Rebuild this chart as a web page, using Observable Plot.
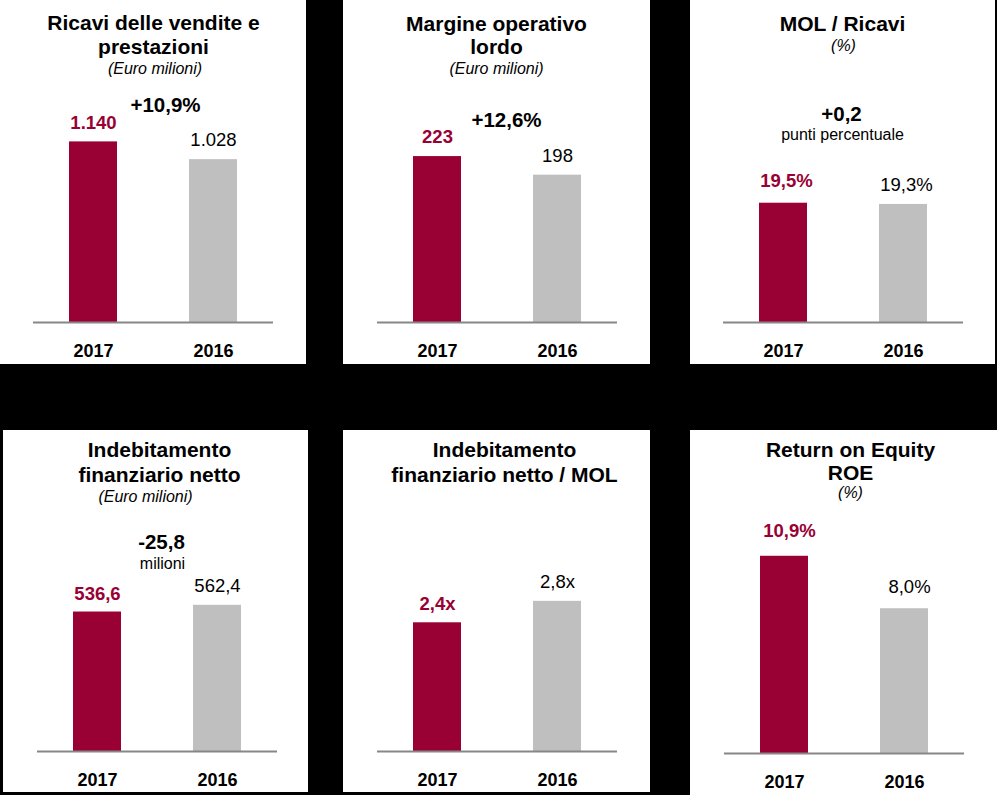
<!DOCTYPE html>
<html><head><meta charset="utf-8">
<script src="https://cdn.jsdelivr.net/npm/d3@7"></script>
<script src="https://cdn.jsdelivr.net/npm/@observablehq/plot@0.6"></script>
<style>
html,body{margin:0;padding:0;background:#000;}
#page{position:relative;width:997px;height:795px;overflow:hidden;background:#000;}
.panel{position:absolute;background:#fff;overflow:hidden;}
.panel svg{display:block;}
</style></head><body><div id="page"></div>
<script>
// ---- data ----
const years = ["2017", "2016"];
const ricavi = [1140, 1028];
const ricaviLabels = ["1.140", "1.028"];
const margine = [223, 198];
const margineLabels = ["223", "198"];
const molRicavi = [19.5, 19.3];
const molRicaviLabels = ["19,5%", "19,3%"];
const indebitamento = [536.6, 562.4];
const indebitamentoLabels = ["536,6", "562,4"];
const indebMol = [2.4, 2.8];
const indebMolLabels = ["2,4x", "2,8x"];
const roe = [10.9, 8.0];
const roeLabels = ["10,9%", "8,0%"];

const titles = [
  "Ricavi delle vendite e\nprestazioni",
  "Margine operativo\nlordo",
  "MOL / Ricavi",
  "Indebitamento\nfinanziario netto",
  "Indebitamento\nfinanziario netto / MOL",
  "Return on Equity\nROE"
];
const subtitles = ["(Euro milioni)", "(Euro milioni)", "(%)", "(Euro milioni)", "", "(%)"];
const changes = ["+10,9%", "+12,6%", "+0,2", "-25,8", "", ""];
const changeNotes = ["", "", "punti percentuale", "milioni", "", ""];

const series = [ricavi, margine, molRicavi, indebitamento, indebMol, roe];
const seriesLabels = [ricaviLabels, margineLabels, molRicaviLabels, indebitamentoLabels, indebMolLabels, roeLabels];

// ---- layout / style ----
const crimson = "#990033";
const grey = "#BFBFBF";
const axisGrey = "#878787";
const font = "'Liberation Sans', Arial, Helvetica, sans-serif";
const MT = 40;

const layout = [
  {left: 0,   top: 0,   width: 306, height: 364, ml: 33, mr: 33, mb: 42, yMax: 1780,
   titleDx: 0, titleDy: 13.5, lh: 24, subDx: 1.5, subDy: 33.3, chDx: 12, chDy: 71, noteDx: 0, noteDy: 0, labDy: [-13, -13.5], labDx: 0},
  {left: 343, top: 0,   width: 307, height: 364, ml: 34, mr: 33, mb: 42, yMax: 379,
   titleDx: -1, titleDy: 13.5, lh: 23.5, subDx: -1, subDy: 33.3, chDx: 9, chDy: 86.7, noteDx: 0, noteDy: 0, labDy: [-14, -13], labDx: 0},
  {left: 690, top: 0,   width: 305, height: 364, ml: 33, mr: 32, mb: 42, yMax: 46.1,
   titleDx: -1, titleDy: -10, lh: 24, subDx: 0, subDy: 10, chDx: -2, chDy: 80, noteDx: -1, noteDy: 99.5, labDy: [-16, -13.5], labDx: 3},
  {left: 3,   top: 430, width: 305, height: 362, ml: 34, mr: 31, mb: 41, yMax: 1081,
   titleDx: 2, titleDy: 11.7, lh: 25, subDx: -12, subDy: 31.6, chDx: 4, chDy: 78, noteDx: 5, noteDy: 98.3, labDy: [-12, -13], labDx: 0},
  {left: 343, top: 430, width: 307, height: 362, ml: 34, mr: 33, mb: 41, yMax: 5.24,
   titleDx: 7, titleDy: 11.7, lh: 25, subDx: 0, subDy: 0, chDx: 0, chDy: 0, noteDx: 0, noteDy: 0, labDy: [-13, -13], labDx: 0},
  {left: 690, top: 430, width: 307, height: 365, ml: 34, mr: 33, mb: 42, yMax: 15.64,
   titleDx: 6, titleDy: 9.3, lh: 23.3, subDx: 6, subDy: 27.3, chDx: 0, chDy: 0, noteDx: 0, noteDy: 0, labDy: [-19, -16], labDx: 5}
];

const page = document.getElementById("page");

series.forEach((vals, i) => {
  const L = layout[i];
  const data = years.map((y, j) => ({year: y, value: vals[j], label: seriesLabels[i][j]}));
  const marks = [
    Plot.barY(data, {x: "year", y: "value", fill: "year"}),
    Plot.ruleY([0], {stroke: axisGrey, strokeWidth: 2}),
    Plot.text(data.slice(0, 1), {x: "year", y: "value", text: "label", lineAnchor: "bottom",
      dy: L.labDy[0], dx: L.labDx, fill: crimson, fontWeight: "bold", fontSize: 18.5}),
    Plot.text(data.slice(1, 2), {x: "year", y: "value", text: "label", lineAnchor: "bottom",
      dy: L.labDy[1], dx: L.labDx, fill: "#000", fontSize: 18.5}),
    Plot.text(years, {x: d => d, text: d => d, frameAnchor: "bottom", lineAnchor: "bottom",
      dy: 34, fill: "#000", fontWeight: "bold", fontSize: 18}),
    Plot.text([titles[i]], {text: d => d, frameAnchor: "top", lineAnchor: "bottom",
      dx: L.titleDx, dy: L.titleDy, lineHeight: L.lh / 21, fill: "#000", fontWeight: "bold", fontSize: 21})
  ];
  if (subtitles[i]) marks.push(Plot.text([subtitles[i]], {text: d => d, frameAnchor: "top", lineAnchor: "bottom",
      dx: L.subDx, dy: L.subDy, fill: "#000", fontStyle: "italic", fontSize: 16}));
  if (changes[i]) marks.push(Plot.text([changes[i]], {text: d => d, frameAnchor: "top", lineAnchor: "bottom",
      dx: L.chDx, dy: L.chDy, fill: "#000", fontWeight: "bold", fontSize: 20.5}));
  if (changeNotes[i]) marks.push(Plot.text([changeNotes[i]], {text: d => d, frameAnchor: "top", lineAnchor: "bottom",
      dx: L.noteDx, dy: L.noteDy, fill: "#000", fontSize: 16}));

  const chart = Plot.plot({
    width: L.width,
    height: L.height,
    marginTop: MT,
    marginBottom: L.mb,
    marginLeft: L.ml,
    marginRight: L.mr,
    style: {background: "white", fontFamily: font, overflow: "visible"},
    x: {domain: years, paddingInner: 0.6, paddingOuter: 0.3, axis: null},
    y: {domain: [0, L.yMax], axis: null},
    color: {domain: years, range: [crimson, grey]},
    marks
  });
  const div = document.createElement("div");
  div.className = "panel";
  div.style.left = L.left + "px";
  div.style.top = L.top + "px";
  div.style.width = L.width + "px";
  div.style.height = L.height + "px";
  div.appendChild(chart);
  page.appendChild(div);
});
</script>
</body></html>
